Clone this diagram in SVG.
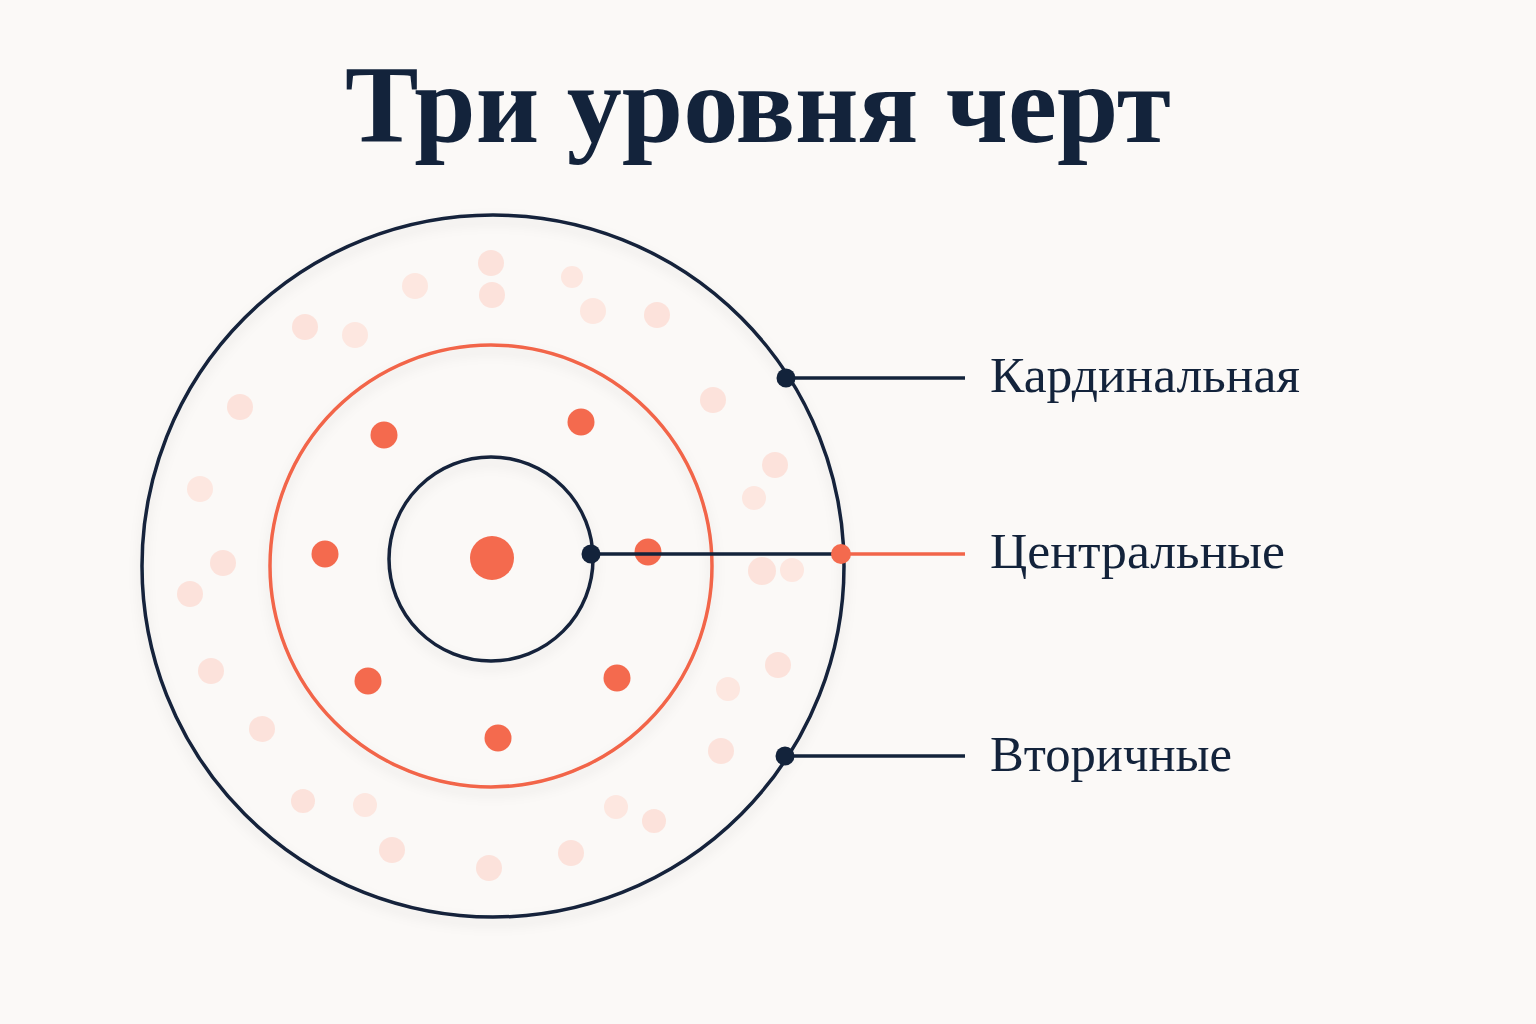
<svg xmlns="http://www.w3.org/2000/svg" width="1536" height="1024" viewBox="0 0 1536 1024">
<style>
.title{font-family:"Liberation Serif","Times New Roman",serif;font-weight:bold;font-size:110px;fill:#13233b}
.label{font-family:"Liberation Serif","Times New Roman",serif;font-size:51px;fill:#13233b}
.ring{fill:none;stroke-width:3.5}
.navy{stroke:#13233b}
.orange{stroke:#f2654a}
.faint{fill:#fcdcd3;opacity:0.8}
.faint2{fill:#fde7e0}
.dot{fill:#f46a4e}
.line{stroke-width:3.5;fill:none}
.pin{fill:#13233b}
</style>
<defs>
<filter id="sh" x="-10%" y="-10%" width="120%" height="125%">
<feDropShadow dx="0" dy="6" stdDeviation="6" flood-color="#000" flood-opacity="0.10"/>
</filter>
</defs>
<rect width="1536" height="1024" fill="#fbf9f7"/>
<text class="title" x="758" y="142" text-anchor="middle" textLength="826" lengthAdjust="spacingAndGlyphs">Три уровня черт</text>

<g id="outer-ring">
<circle class="ring navy" cx="493" cy="566" r="351" fill="#fcfaf8" filter="url(#sh)"/>
</g>
<g id="faint-dots">
<circle class="faint" cx="491" cy="263" r="13"/>
<circle class="faint2" cx="415" cy="286" r="13"/>
<circle class="faint" cx="492" cy="295" r="13"/>
<circle class="faint2" cx="572" cy="277" r="11"/>
<circle class="faint2" cx="593" cy="311" r="13"/>
<circle class="faint" cx="657" cy="315" r="13"/>
<circle class="faint" cx="305" cy="327" r="13"/>
<circle class="faint2" cx="355" cy="335" r="13"/>
<circle class="faint" cx="240" cy="407" r="13"/>
<circle class="faint" cx="713" cy="400" r="13"/>
<circle class="faint2" cx="200" cy="489" r="13"/>
<circle class="faint" cx="775" cy="465" r="13"/>
<circle class="faint2" cx="754" cy="498" r="12"/>
<circle class="faint" cx="223" cy="563" r="13"/>
<circle class="faint" cx="190" cy="594" r="13"/>
<circle class="faint" cx="762" cy="571" r="14"/>
<circle class="faint2" cx="792" cy="570" r="12"/>
<circle class="faint" cx="211" cy="671" r="13"/>
<circle class="faint" cx="778" cy="665" r="13"/>
<circle class="faint2" cx="728" cy="689" r="12"/>
<circle class="faint" cx="262" cy="729" r="13"/>
<circle class="faint" cx="721" cy="751" r="13"/>
<circle class="faint" cx="303" cy="801" r="12"/>
<circle class="faint2" cx="365" cy="805" r="12"/>
<circle class="faint2" cx="616" cy="807" r="12"/>
<circle class="faint" cx="654" cy="821" r="12"/>
<circle class="faint" cx="392" cy="850" r="13"/>
<circle class="faint" cx="489" cy="868" r="13"/>
<circle class="faint" cx="571" cy="853" r="13"/>
</g>
<g id="middle-ring">
<circle class="ring orange" cx="491" cy="566" r="221" fill="#fcfaf8" filter="url(#sh)"/>
</g>
<g id="central-dots">
<circle class="dot" cx="384" cy="435" r="13.5"/>
<circle class="dot" cx="581" cy="422" r="13.5"/>
<circle class="dot" cx="325" cy="554" r="13.5"/>
<circle class="dot" cx="648" cy="552" r="13.5"/>
<circle class="dot" cx="368" cy="681" r="13.5"/>
<circle class="dot" cx="617" cy="678" r="13.5"/>
<circle class="dot" cx="498" cy="738" r="13.5"/>
</g>
<g id="inner-ring">
<circle class="ring navy" cx="491" cy="559" r="102" fill="#fcfaf8" filter="url(#sh)"/>
<circle class="dot" cx="492" cy="558" r="22"/>
</g>

<g id="connectors">
<line class="line navy" x1="786" y1="378" x2="965" y2="378"/>
<circle class="pin" cx="786" cy="378" r="9.5"/>
<line class="line navy" x1="591" y1="554" x2="841" y2="554"/>
<line class="line orange" x1="841" y1="554" x2="965" y2="554"/>
<circle class="pin" cx="591" cy="554" r="9.5"/>
<circle fill="#f46a4e" cx="841" cy="554" r="10"/>
<line class="line navy" x1="785" y1="756" x2="965" y2="756"/>
<circle class="pin" cx="785" cy="756" r="9.5"/>
</g>

<g id="label-cardinal">
<text class="label" x="990" y="392" textLength="310" lengthAdjust="spacingAndGlyphs">Кардинальная</text>
</g>
<g id="label-central">
<text class="label" x="990" y="568" textLength="295" lengthAdjust="spacingAndGlyphs">Центральные</text>
</g>
<g id="label-secondary">
<text class="label" x="990" y="771" textLength="242" lengthAdjust="spacingAndGlyphs">Вторичные</text>
</g>
</svg>
